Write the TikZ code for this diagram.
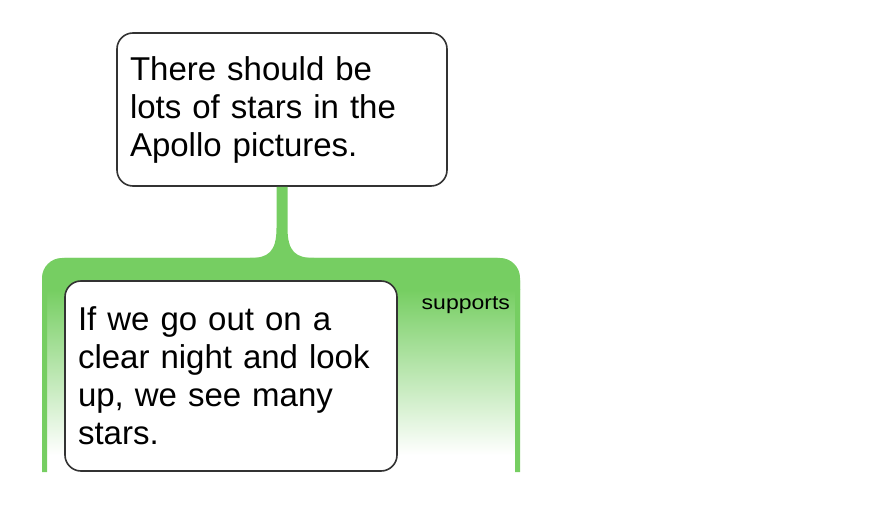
\documentclass[tikz,border=0pt]{standalone}
\usepackage{fontspec}
\setmainfont{Liberation Sans}
\definecolor{supgreen}{RGB}{118,206,98}
\tikzset{
  argbox/.style={draw=black!80, line width=1.6pt, rounded corners=16pt, fill=white,
    align=left, inner xsep=13pt, inner ysep=0pt,
    font=\fontsize{33}{38}\selectfont},
}
\begin{document}
\begin{tikzpicture}[x=1pt, y=-1pt]
    \useasboundingbox (0,0) rectangle (886,526);

    % support group: solid band and fading body
    \fill[supgreen] (42,290) [rounded corners=20pt] -- (42,258) -- (520,258)
      [sharp corners] -- (520,290) -- cycle;
    \shade[top color=supgreen, bottom color=white] (42,289.5) rectangle (520,455);
    \draw[supgreen, line width=5pt, rounded corners=20pt]
      (44.5,472) -- (44.5,260.5) -- (517.5,260.5) -- (517.5,472);

    % claim and reason boxes
    \node[argbox, minimum width=330pt, minimum height=153pt, text width=304pt]
      (claim) at (282,109.5) {There should be\\lots of stars in the\\Apollo pictures.};
    \node[argbox, minimum width=332pt, minimum height=190pt, text width=306pt]
      (reason) at (231,376) {If we go out on a\\clear night and look\\up, we see many\\stars.};

    % stem from claim to group
    \coordinate (stem) at (282,258);
    \fill[supgreen] ([xshift=-5.5pt]claim.south) -- ([xshift=-5.5pt]stem |- 0,228)
      .. controls ([xshift=-5.5pt]stem |- 0,252) and ([xshift=-14pt]stem) .. ([xshift=-32pt]stem)
      -- ([xshift=32pt]stem)
      .. controls ([xshift=14pt]stem) and ([xshift=5.5pt]stem |- 0,252) .. ([xshift=5.5pt]stem |- 0,228)
      -- ([xshift=5.5pt]claim.south) -- cycle;

    % label
    \node[anchor=base east, font=\fontsize{20}{22}\selectfont, xscale=1.15]
      (supports) at (514,310) {supports};
\end{tikzpicture}
\end{document}
